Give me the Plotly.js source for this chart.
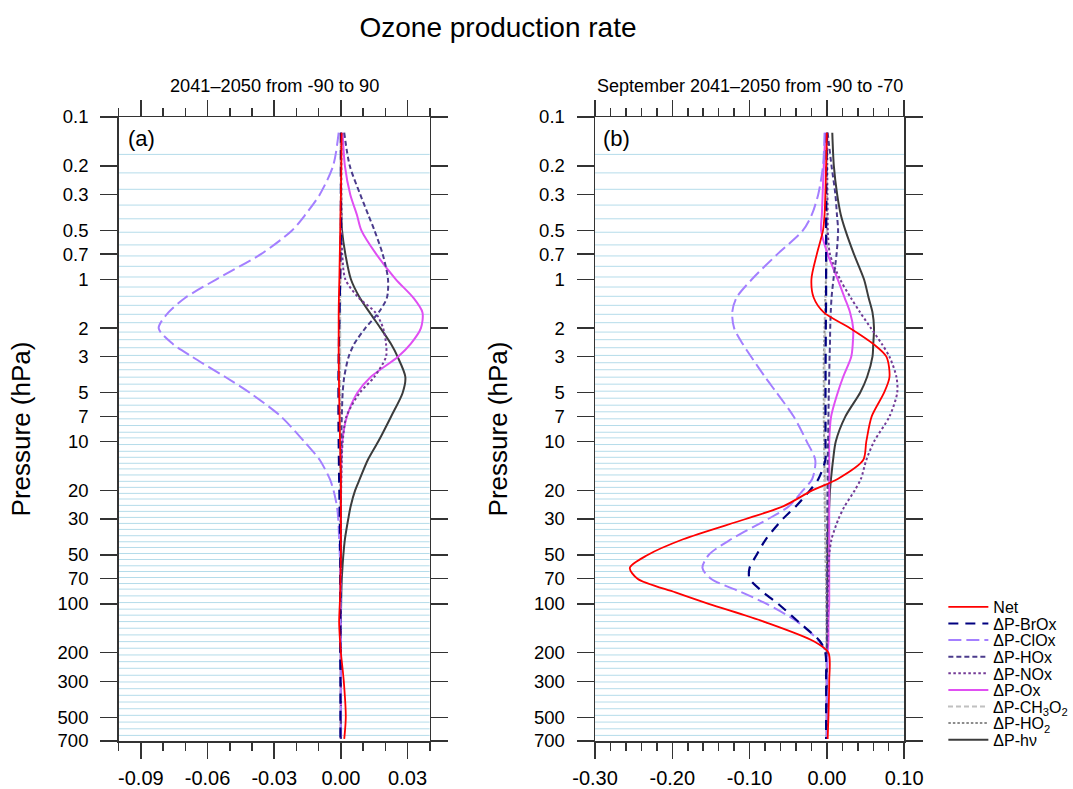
<!DOCTYPE html>
<html>
<head>
<meta charset="utf-8">
<script src="https://cdn.plot.ly/plotly-3.0.1.min.js"></script>
<style>html,body{margin:0;padding:0;background:#fff}#chart{width:1073px;height:789px}</style>
</head>
<body>
<div id="chart"></div>
<script>
// Pressure levels (hPa) at which the profiles were read
const pressure = [0.125, 0.2, 0.3, 0.4, 0.5, 0.7, 1, 1.3, 1.6, 2, 2.5, 3, 4, 5, 7, 10, 13, 17, 20, 25, 30, 40, 50, 60, 70, 85, 100, 130, 170, 200, 300, 500, 680];

// Model level lines (light blue horizontal lines)
const gridLevels = [0.170, 0.221, 0.279, 0.349, 0.424, 0.513, 0.614, 0.718, 0.832, 0.968, 1.116, 1.273, 1.447, 1.644, 1.851, 2.115, 2.356, 2.641, 2.945, 3.267, 3.609, 4.010, 4.429, 4.892, 5.404, 5.969, 6.556, 7.242, 7.965, 8.76, 9.49, 10.43, 11.48, 12.50, 13.61, 14.74, 16.06, 17.58, 19.15, 20.86, 22.59, 24.73, 26.93, 29.33, 31.94, 34.78, 38.04, 41.43, 44.94, 48.94, 53.29, 58.27, 63.18, 68.81, 74.94, 81.15, 89.3, 98.2, 107.8, 117.4, 128.6, 141.3, 155.4, 170.9, 187.7, 206.5, 227.1, 249.5, 275.4, 303.0, 333.3, 366.1, 402.7, 442.9, 486.4, 535.2, 588.7, 646.5];

const seriesNames = ['Net', 'ΔP-BrOx', 'ΔP-ClOx', 'ΔP-HOx', 'ΔP-NOx', 'ΔP-Ox', 'ΔP-CH<sub>3</sub>O<sub>2</sub>', 'ΔP-HO<sub>2</sub>', 'ΔP-hν'];

// Panel (a): 2041-2050, -90 to 90
const netA   = [0.0003, 0.0002, 0, -0.0002, -0.0003, -0.0005, -0.0007, -0.0009, -0.001, -0.001, -0.001, -0.001, -0.0009, -0.0008, -0.0006, -0.0004, -0.0002, 0, 0, 0, 0, 0, 0, -0.0001, -0.0002, -0.0003, -0.0005, -0.0008, -0.0004, 0, 0.0013, 0.0022, 0.0015];
const brOxA  = [0, 0, 0, 0, 0, -0.0002, -0.0003, -0.0005, -0.0006, -0.0008, -0.0009, -0.001, -0.0011, -0.0011, -0.0011, -0.001, -0.0009, -0.0008, -0.0007, -0.0006, -0.0005, -0.0004, -0.0003, -0.0003, -0.0003, -0.0003, -0.0003, -0.0003, -0.0003, -0.0003, -0.0002, -0.0002, -0.0002];
const clOxA  = [-0.001, -0.0035, -0.0095, -0.016, -0.022, -0.036, -0.056, -0.070, -0.0776, -0.082, -0.0757, -0.067, -0.052, -0.041, -0.027, -0.0165, -0.0095, -0.005, -0.0033, -0.0018, -0.0012, -0.0008, -0.0005, -0.0004, -0.0003, -0.0003, -0.0002, -0.0002, -0.0001, -0.0001, 0, 0, 0];
const hOxA   = [0.0015, 0.004, 0.0087, 0.0123, 0.0151, 0.0188, 0.0212, 0.0207, 0.017, 0.011, 0.006, 0.0035, 0.0015, 0.0008, 0.0004, 0.0002, 0.0001, 0, 0, 0, 0, 0, 0, 0, 0, 0, 0, 0, 0, 0, 0, 0, 0];
const nOxA   = [0.0002, 0.0002, 0.0002, 0.0003, 0.0003, 0.0006, 0.002, 0.008, 0.0155, 0.019, 0.0203, 0.0203, 0.015, 0.0085, 0.0025, 0.0008, 0.0004, 0.0002, 0.0001, 0, 0, 0, 0, 0, 0, 0, 0, 0, 0, 0, 0, 0, 0];
const oxA    = [0.0008, 0.0018, 0.0042, 0.0072, 0.0092, 0.0159, 0.0247, 0.0326, 0.0367, 0.036, 0.0314, 0.0257, 0.0134, 0.0074, 0.0027, 0.0006, 0.0002, 0.0001, 0, 0, 0, 0, 0, 0, 0, 0, 0, 0, 0, 0, 0, 0, 0];
const ch3o2A = [0, 0, 0, 0, 0, -0.0001, -0.0002, -0.0002, -0.0003, -0.0003, -0.0003, -0.0003, -0.0003, -0.0003, -0.0003, -0.0003, -0.0002, -0.0002, -0.0002, -0.0001, -0.0001, -0.0001, -0.0001, 0, 0, 0, 0, 0, 0, 0, 0, 0, 0];
const hO2A   = [0, 0, 0, 0, -0.0001, -0.0002, -0.0003, -0.0004, -0.0004, -0.0005, -0.0005, -0.0005, -0.0005, -0.0005, -0.0004, -0.0004, -0.0003, -0.0003, -0.0002, -0.0002, -0.0002, -0.0001, -0.0001, -0.0001, 0, 0, 0, 0, 0, 0, 0, 0, 0];
const hvA    = [0, 0, 0.0001, 0.0002, 0.0005, 0.002, 0.0045, 0.0085, 0.0129, 0.0178, 0.0225, 0.0255, 0.029, 0.0278, 0.0226, 0.0168, 0.0121, 0.0085, 0.0064, 0.0044, 0.0033, 0.0018, 0.0011, 0.0007, 0.0004, 0.0002, 0.0001, 0, 0, 0, 0, 0, 0];

// Panel (b): September 2041-2050, -90 to -70
const netB   = [0, -0.001, -0.002, -0.003, -0.005, -0.013, -0.020, -0.017, -0.004, 0.030, 0.060, 0.077, 0.081, 0.074, 0.058, 0.051, 0.047, 0.014, -0.019, -0.056, -0.105, -0.186, -0.232, -0.255, -0.245, -0.196, -0.153, -0.079, -0.017, 0.002, 0.003, 0.002, 0.001];
const brOxB  = [0, -0.0005, -0.001, -0.001, -0.001, -0.001, -0.001, -0.001, -0.0012, -0.0014, -0.0015, -0.0016, -0.0017, -0.0018, -0.0018, -0.0018, -0.002, -0.011, -0.022, -0.040, -0.057, -0.079, -0.091, -0.100, -0.100, -0.082, -0.063, -0.036, -0.009, -0.002, -0.001, -0.001, -0.001];
const clOxB  = [-0.003, -0.005, -0.0112, -0.0195, -0.031, -0.064, -0.097, -0.117, -0.1225, -0.120, -0.109, -0.098, -0.080, -0.065, -0.043, -0.026, -0.015, -0.019, -0.031, -0.049, -0.076, -0.124, -0.153, -0.161, -0.150, -0.110, -0.078, -0.037, -0.010, -0.001, 0, 0, 0];
const hOxB   = [0.001, 0.006, 0.011, 0.013, 0.0145, 0.0125, 0.0085, 0.006, 0.005, 0.0043, 0.004, 0.0035, 0.003, 0.0025, 0.002, 0.0015, 0.001, 0.001, 0.0008, 0.0006, 0.0005, 0.0004, 0.0003, 0.0003, 0.0003, 0.0003, 0.0002, 0.0002, 0.0001, 0, 0, 0, 0];
const nOxB   = [0.0005, 0.0005, 0.0007, 0.001, 0.0012, 0.004, 0.017, 0.031, 0.043, 0.057, 0.071, 0.081, 0.090, 0.091, 0.081, 0.061, 0.051, 0.044, 0.036, 0.023, 0.015, 0.006, 0.003, 0.002, 0.002, 0.001, 0.001, 0.001, 0.0005, 0, 0, 0, 0];
const oxB    = [-0.002, -0.004, -0.0055, -0.0065, -0.0075, 0.001, 0.014, 0.023, 0.030, 0.034, 0.0335, 0.0315, 0.021, 0.014, 0.0055, 0.003, 0.003, 0.003, 0.003, 0.003, 0.003, 0.003, 0.003, 0.003, 0.003, 0.003, 0.003, 0.002, 0.002, 0.001, 0, 0, 0];
const ch3o2B = [0, 0, 0, 0, 0, -0.0005, -0.001, -0.0015, -0.002, -0.002, -0.0025, -0.003, -0.003, -0.003, -0.003, -0.003, -0.003, -0.0025, -0.0025, -0.002, -0.002, -0.0015, -0.001, -0.001, -0.0008, -0.0006, -0.0005, -0.0003, -0.0002, 0, 0, 0, 0];
const hO2B   = [0, 0, 0, 0, 0, -0.0005, -0.0012, -0.002, -0.0025, -0.003, -0.0035, -0.004, -0.004, -0.004, -0.004, -0.0035, -0.0033, -0.003, -0.003, -0.0028, -0.0025, -0.002, -0.0018, -0.0015, -0.0012, -0.001, -0.0008, -0.0005, -0.0003, -0.0001, 0, 0, 0];
const hvB    = [0.007, 0.009, 0.0133, 0.018, 0.024, 0.035, 0.048, 0.054, 0.059, 0.061, 0.060, 0.059, 0.052, 0.043, 0.024, 0.0115, 0.008, 0.0053, 0.004, 0.003, 0.002, 0.001, 0.0007, 0.0005, 0.0004, 0.0003, 0.0002, 0.0001, 0, 0, 0, 0, 0];

const yTickVals = [0.1, 0.2, 0.3, 0.5, 0.7, 1, 2, 3, 5, 7, 10, 20, 30, 50, 70, 100, 200, 300, 500, 700];
const yTickText = ['0.1', '0.2', '0.3', '0.5', '0.7', '1', '2', '3', '5', '7', '10', '20', '30', '50', '70', '100', '200', '300', '500', '700'];
const xTickValsA = [-0.09, -0.06, -0.03, 0, 0.03];
const xTickTextA = ['-0.09', '-0.06', '-0.03', '0.00', '0.03'];
const xTickValsB = [-0.3, -0.2, -0.1, 0, 0.1];
const xTickTextB = ['-0.30', '-0.20', '-0.10', '0.00', '0.10'];
const xRangeA = [-0.1, 0.04];
const xRangeB = [-0.3, 0.1];

// styles
const colors = ['#ff0000', '#000080', '#a47fff', '#4b3b8c', '#733a96', '#e04ff2', '#c0c0c0', '#8c8c8c', '#3c3c3c'];
const dashes = ['solid', '10px,7px', '13px,5px', '5px,3px', '2.5px,2.5px', 'solid', '5px,3px', '2.5px,2px', 'solid'];
const widths = [1.8, 2.2, 2, 2, 2, 2, 2, 2, 2];
const legendKeys = ['legend', 'legend2', 'legend3', 'legend4', 'legend5', 'legend6', 'legend7', 'legend8', 'legend9'];

const seriesA = [netA, brOxA, clOxA, hOxA, nOxA, oxA, ch3o2A, hO2A, hvA];
const seriesB = [netB, brOxB, clOxB, hOxB, nOxB, oxB, ch3o2B, hO2B, hvB];

function gridTrace(xr, xa, ya) {
  const gx = [], gy = [];
  gridLevels.forEach(p => { gx.push(xr[0], xr[1], null); gy.push(p, p, null); });
  return {x: gx, y: gy, xaxis: xa, yaxis: ya, mode: 'lines', type: 'scatter',
          line: {color: '#b5dcea', width: 1}, showlegend: false, hoverinfo: 'skip'};
}

const traces = [gridTrace(xRangeA, 'x', 'y'), gridTrace(xRangeB, 'x2', 'y2')];
function addPanel(series, xa, ya, showLegend) {
  for (let i = series.length - 1; i >= 0; i--) {
    traces.push({
      x: series[i], y: pressure, xaxis: xa, yaxis: ya, type: 'scatter', mode: 'lines',
      name: seriesNames[i], showlegend: showLegend, legend: legendKeys[i],
      line: {color: colors[i], dash: dashes[i], width: widths[i], shape: 'spline', smoothing: 0.8}
    });
  }
}
addPanel(seriesA, 'x', 'y', false);
addPanel(seriesB, 'x2', 'y2', true);

const FONT = 'Liberation Sans, Arial, Helvetica, sans-serif';
const axisCommon = {
  showline: true, linecolor: '#333', linewidth: 1.5, mirror: 'ticks',
  ticks: 'outside', tickwidth: 1.5, tickcolor: '#333',
  showgrid: false, zeroline: false, automargin: false, fixedrange: true
};
const yDomain = [1 - 741 / 789, 1 - 117 / 789];
function yAxis(anchor) {
  return Object.assign({}, axisCommon, {
    domain: yDomain, anchor: anchor, type: 'log', range: [Math.log10(700), -1],
    tickmode: 'array', tickvals: yTickVals, ticktext: yTickText, ticklen: 17, ticklabelstandoff: 8,
    tickfont: {family: FONT, size: 18.5, color: '#000'},
    title: {text: 'Pressure (hPa)', font: {family: FONT, size: 26, color: '#000'}, standoff: 19}
  });
}
function xAxis(anchor, domain, range, tv, tt, minorStep) {
  return Object.assign({}, axisCommon, {
    domain: domain, anchor: anchor, range: range,
    tickmode: 'array', tickvals: tv, ticktext: tt, ticklen: 16, ticklabelstandoff: 2,
    tickfont: {family: FONT, size: 20, color: '#000'},
    minor: {tick0: 0, dtick: minorStep, ticks: 'outside', ticklen: 8, tickwidth: 1.5, tickcolor: '#333', showgrid: false}
  });
}

const layout = {
  width: 1073, height: 789,
  margin: {l: 0, r: 0, t: 0, b: 0},
  paper_bgcolor: '#fff', plot_bgcolor: '#fff',
  font: {family: FONT, color: '#000'},
  hovermode: false,
  title: {text: 'Ozone production rate', font: {family: FONT, size: 28, color: '#000'},
          x: 498 / 1073, xanchor: 'center', y: 1 - 27 / 789, yanchor: 'middle'},
  xaxis: xAxis('y', [119 / 1073, 431 / 1073], xRangeA, xTickValsA, xTickTextA, 0.01),
  yaxis: yAxis('x'),
  xaxis2: xAxis('y2', [596.7 / 1073, 906.7 / 1073], xRangeB, xTickValsB, xTickTextB, 0.02),
  yaxis2: yAxis('x2'),
  annotations: [
    {text: '2041–2050 from -90 to 90', xref: 'x domain', x: 0.5, yref: 'paper', y: 1 - 86 / 789,
     xanchor: 'center', yanchor: 'middle', showarrow: false, font: {family: FONT, size: 18.2, color: '#000'}},
    {text: 'September 2041–2050 from -90 to -70', xref: 'x2 domain', x: 0.5, yref: 'paper', y: 1 - 86 / 789,
     xanchor: 'center', yanchor: 'middle', showarrow: false, font: {family: FONT, size: 18, color: '#000'}},
    {text: '(a)', xref: 'x domain', x: 0.022, yref: 'y domain', y: 0.988, xanchor: 'left', yanchor: 'top',
     showarrow: false, font: {family: FONT, size: 22, color: '#000'}},
    {text: '(b)', xref: 'x2 domain', x: 0.018, yref: 'y2 domain', y: 0.988, xanchor: 'left', yanchor: 'top',
     showarrow: false, font: {family: FONT, size: 22, color: '#000'}}
  ]
};
// one single-entry legend per series so the rows can sit as closely as in the original
legendKeys.forEach((k, i) => {
  layout[k] = {x: 946 / 1073, xanchor: 'left', y: 1 - (607 + i * 16.6) / 789, yanchor: 'middle',
               font: {family: FONT, size: 16, color: '#000'}, bgcolor: 'rgba(0,0,0,0)',
               borderwidth: 0, itemwidth: 40};
});

Plotly.newPlot('chart', traces, layout, {displayModeBar: false, staticPlot: true});
</script>
</body>
</html>
